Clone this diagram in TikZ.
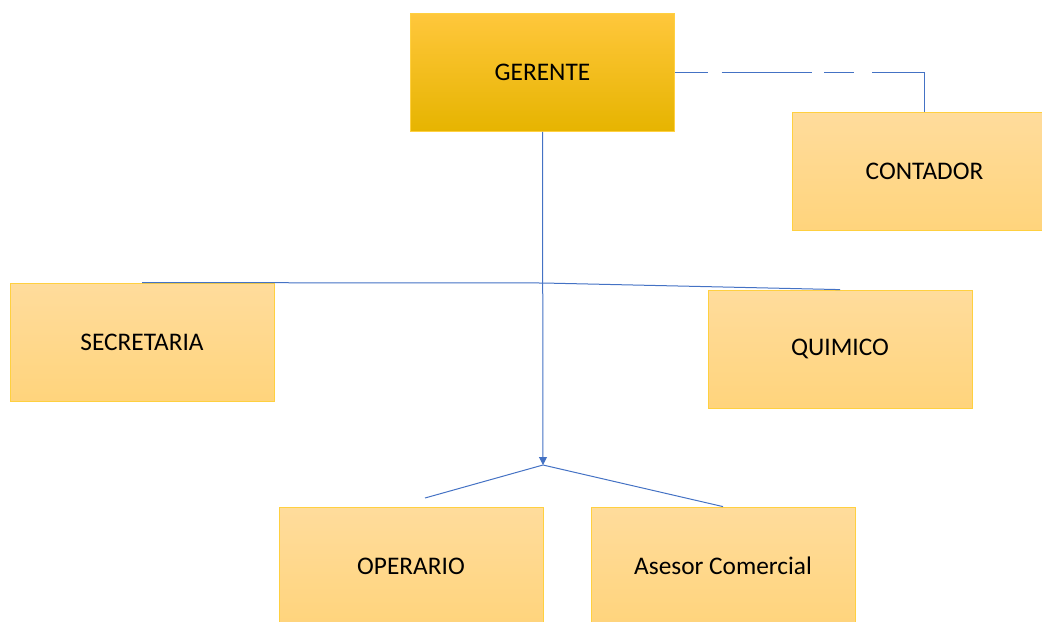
\documentclass[tikz,border=0pt]{standalone}
\usepackage{fontspec}
\setmainfont{Carlito}
\usetikzlibrary{arrows.meta,positioning}
\definecolor{linea}{HTML}{4472C4}
\definecolor{borde}{HTML}{FFC000}
\definecolor{claroarriba}{HTML}{FFDC9C}
\definecolor{claroabajo}{HTML}{FFD47C}
\definecolor{jefearriba}{HTML}{FFC73C}
\definecolor{jefeabajo}{HTML}{E6B400}

\begin{document}
\begin{tikzpicture}[x=0.75pt,y=-0.75pt,semithick,
    caja/.style={draw=borde!75,line width=0.6pt,minimum width=198pt,minimum height=88.5pt,inner sep=0pt,
      top color=claroarriba,bottom color=claroabajo,
      font=\fontsize{19}{22}\selectfont},
    jefe/.style={caja,top color=jefearriba,middle color=borde,bottom color=jefeabajo},
    conector/.style={draw=linea,line width=0.75pt}]
  \useasboundingbox (0,0) rectangle (1042,621);

  \node[jefe] (gerente)    at (542.5,72.5) {GERENTE};
  \node[caja] (contador)   at (924.5,171.5) {CONTADOR};
  \node[caja] (secretaria) at (142,342) {SECRETARIA};
  \node[caja] (quimico)    at (840,349) {QUIMICO};
  \node[caja] (operario)   at (411,566) {OPERARIO};
  \node[caja] (asesor)     at (723,566) {Asesor Comercial};

  \coordinate (cruce) at (543,283);
  \coordinate (punta) at (543,465);
  \coordinate (opfin) at (425,498);

  \path[conector,dash pattern=on 25pt off 10pt on 68pt off 9pt on 22pt off 14pt on 200pt]
    (gerente.east) -| (contador.north);
  \path[conector,-{Triangle[width=6pt,length=6pt]}] (gerente.south) -- (punta);
  \path[conector] (secretaria.north) -- (cruce) -- (quimico.north);
  \path[conector] (opfin) -- (punta) -- (asesor.north);
\end{tikzpicture}
\end{document}
